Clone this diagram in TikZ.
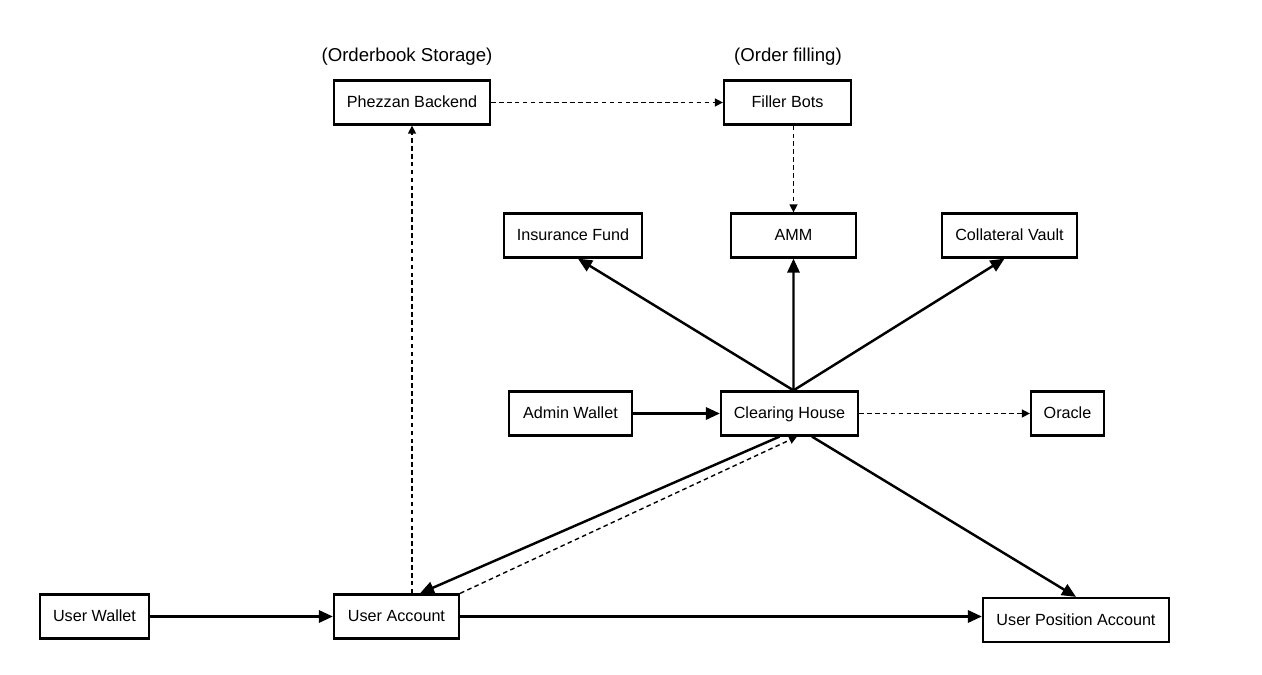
\documentclass[tikz,border=0pt]{standalone}
\usepackage{fontspec}
\setmainfont{Liberation Sans}
\usetikzlibrary{arrows.meta}

\tikzset{
  box/.style={draw, line width=1.3pt, minimum height=0.88cm, inner sep=2pt,
    text height=1.55ex, text depth=0.45ex,
    font=\fontsize{9.2}{11}\selectfont},
  note/.style={font=\fontsize{10.6}{12}\selectfont},
  flow/.style={line width=1.4pt, -{Triangle[length=8pt,width=7pt]}},
  call/.style={line width=0.8pt, dash pattern=on 2.6pt off 1.9pt,
    -{Triangle[length=4.5pt,width=4.5pt]}}
}

\begin{document}
\begin{tikzpicture}[x=0.02cm,y=-0.02cm]

\useasboundingbox (0,0) rectangle (1262,675);

% top row
\node[note] (store) at (407,57) {(Orderbook Storage)};
\node[note] (fill) at (788,57) {(Order filling)};
\node[box,minimum width=3.12cm] (ph) at (412,102.5) {Phezzan Backend};
\node[box,minimum width=2.54cm] (fb) at (787.5,102.5) {Filler Bots};

% vaults
\node[box,minimum width=2.76cm] (ins) at (573,235.5) {Insurance Fund};
\node[box,minimum width=2.5cm] (amm) at (793.5,235.5) {AMM};
\node[box,minimum width=2.7cm] (cv) at (1009.5,235.5) {Collateral Vault};

% middle row
\node[box,minimum width=2.46cm] (aw) at (570.5,413.5) {Admin Wallet};
\node[box,minimum width=2.74cm] (ch) at (789.5,413.5) {Clearing House};
\node[box,minimum width=1.46cm] (or) at (1067.5,413.5) {Oracle};

% users
\node[box,minimum width=2.18cm] (uw) at (94.5,616.5) {User Wallet};
\node[box,minimum width=2.5cm] (ua) at (396.5,616.5) {User Account};
\node[box,minimum width=3.72cm] (upa) at (1076,620) {User Position Account};

% dashed links
\draw[call] (ph) -- (fb);
\draw[call] (fb.south -| amm.north) -- (amm.north);
\draw[call] (ua.north -| ph.south) -- (ph.south);
\draw[call] (ch) -- (or);
\draw[call] (ua.north east) -- ([xshift=0.15cm]ch.south);

% solid links
\draw[flow] ([xshift=0.08cm]ch.north) -- ([xshift=0.1cm]ins.south);
\draw[flow] ([xshift=0.08cm]ch.north) -- (amm.south);
\draw[flow] ([xshift=0.08cm]ch.north) -- ([xshift=-0.1cm]cv.south);
\draw[flow] (aw) -- (ch);
\draw[flow] ([xshift=-0.2cm]ch.south) -- ([xshift=0.47cm]ua.north);
\draw[flow] ([xshift=0.45cm]ch.south) -- (upa.north);
\draw[flow] (uw) -- (ua);
\draw[flow] (ua) -- (ua -| upa.west);

\end{tikzpicture}
\end{document}
